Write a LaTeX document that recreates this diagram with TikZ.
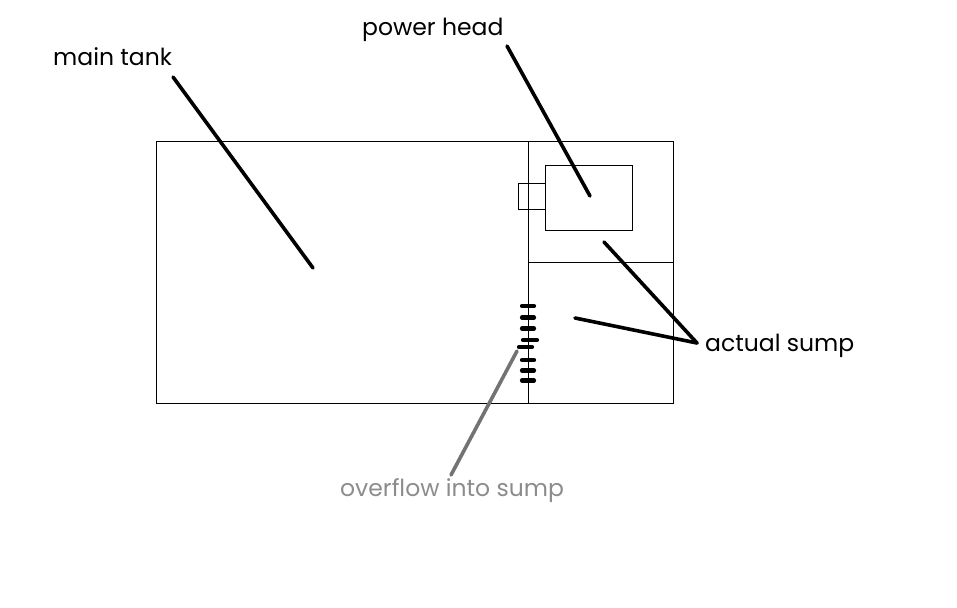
\documentclass[tikz,border=0pt]{standalone}
\usepackage{fontspec}
\setmainfont{Poppins}
\begin{document}
\begin{tikzpicture}[x=1pt,y=-1pt,
  wall/.style={draw=black,line width=0.8pt},
  leader/.style={draw=black,line width=3.6pt,line cap=round},
  rung/.style={draw=black,line width=4.2pt,line cap=round},
  lbl/.style={font=\fontsize{23.5}{26}\selectfont,inner sep=0pt,anchor=west}]
\useasboundingbox (0,0) rectangle (957,607);
% tank
\node[wall,minimum width=517,minimum height=262,inner sep=0,anchor=north west] (tank) at (156,141) {};
\coordinate (divtop) at (528,141);
\coordinate (divbot) at (528,403);
\draw[wall] (divtop) -- (divbot);
\coordinate (hl) at (528,262);
\coordinate (hr) at (673,262);
\draw[wall] (hl) -- (hr);
% power head
\node[wall,minimum width=87,minimum height=65,inner sep=0,anchor=north west] (ph) at (545,165) {};
\node[wall,minimum width=27,minimum height=26,inner sep=0,anchor=north west] (nozzle) at (518,183) {};
% overflow comb
\foreach \y/\a/\b in {306/522/534,317.5/522/534,328.5/522/534,340/523/537,347/519/532,360/522/534,370.5/522/534,380.5/522/534}
  \draw[rung] (\a,\y) -- (\b,\y);
% labels
\node[lbl] (lmain) at (53,57) {main tank};
\node[lbl] (lpower) at (362,30) {power head};
\node[lbl] (lsump) at (705,346) {actual sump};
\node[lbl,text=black!45] (lover) at (340,491) {overflow into sump};
% leader ends
\coordinate (m1) at (173,77);  \coordinate (m2) at (313,268);
\coordinate (p1) at (507,46);  \coordinate (p2) at (590,196);
\coordinate (s0) at (697,343);
\coordinate (s1) at (604,242); \coordinate (s2) at (575,318);
\coordinate (o1) at (451,475); \coordinate (o2) at (517,351);
\draw[leader] (m1) -- (m2);
\draw[leader] (p1) -- (p2);
\draw[leader] (s0) -- (s1);
\draw[leader] (s0) -- (s2);
\draw[leader,draw=black!55] (o1) -- (o2);
\end{tikzpicture}
\end{document}
